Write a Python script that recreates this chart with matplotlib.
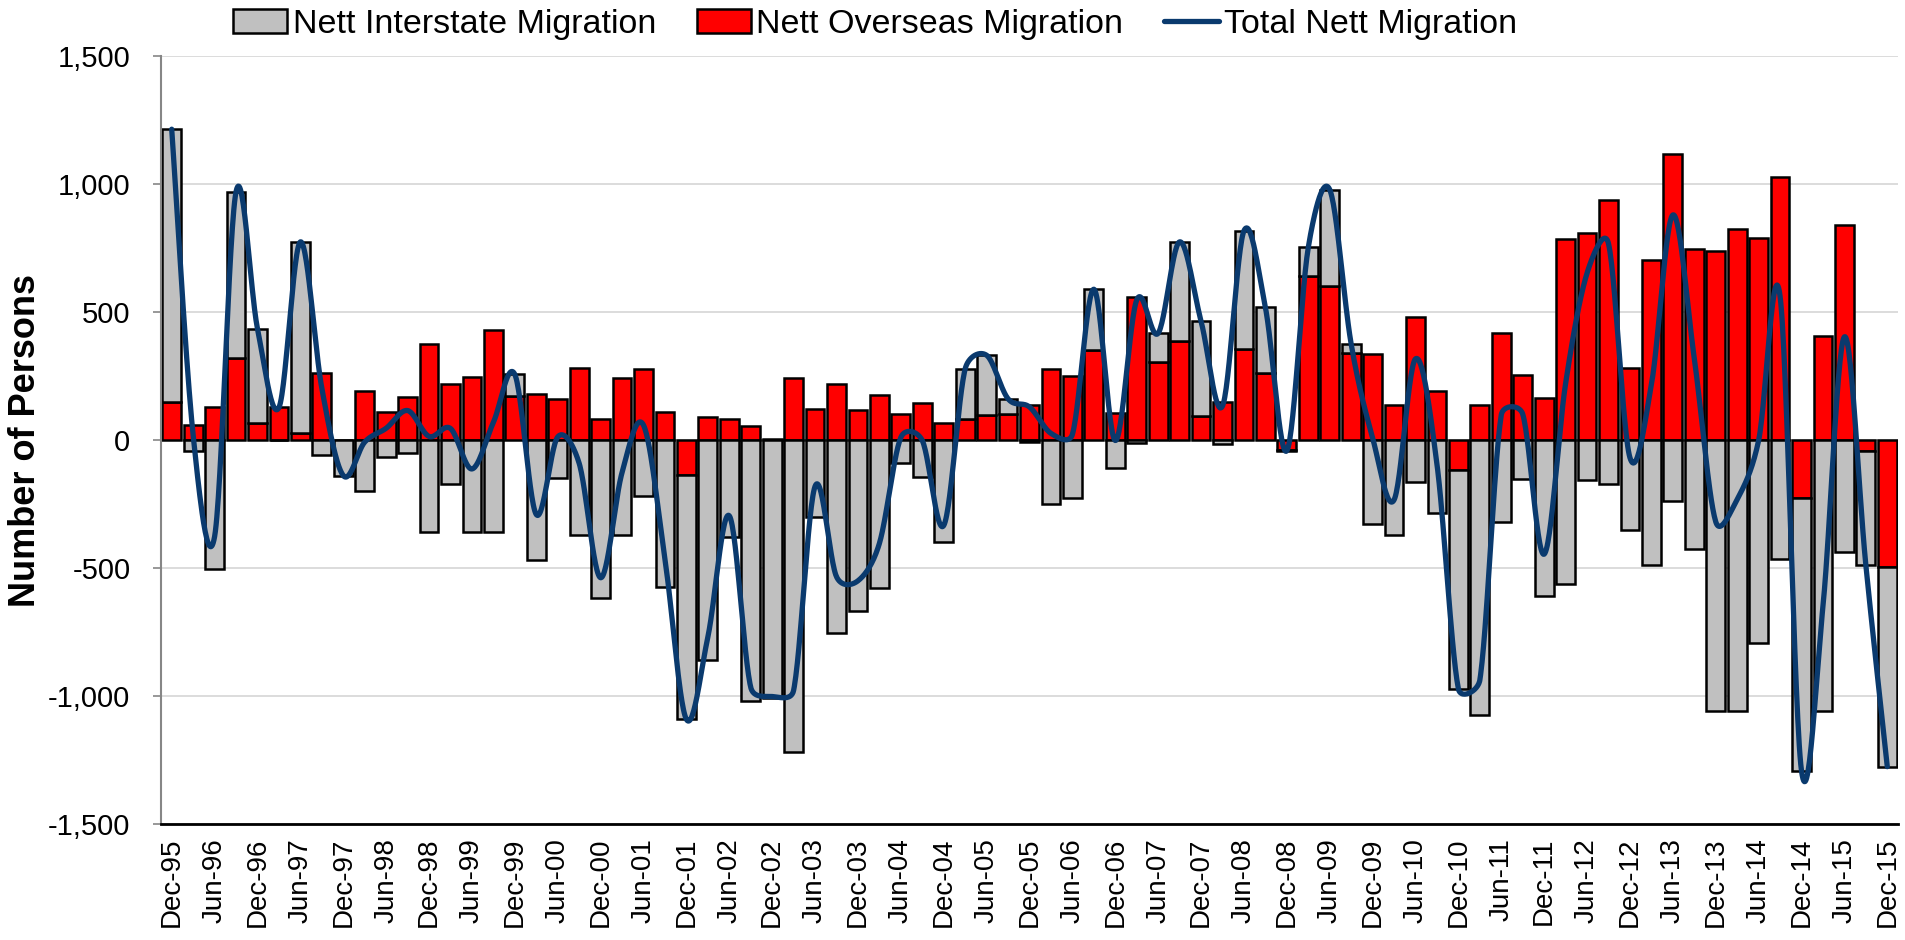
import numpy as np
import matplotlib.pyplot as plt
from matplotlib.ticker import FuncFormatter

plt.rcParams['font.family'] = ['Liberation Sans', 'DejaVu Sans']

# quarterly values, Dec-95 .. Dec-15
overseas = [147, 60, 127, 321, 67, 127, 28, 262, 0, 192,
            111, 167, 375, 218, 248, 430, 173, 179, 161, 280,
            81, 244, 278, 109, -135, 91, 83, 54, 5, 242,
            121, 220, 119, 175, 101, 143, 65, 83, 97, 103,
            135, 276, 250, 353, 107, 557, 306, 385, 95, 149,
            357, 262, -38, 641, 603, 339, 337, 137, 482, 192,
            -117, 137, 419, 254, 163, 784, 807, 938, 282, 704,
            1119, 746, 738, 825, 790, 1028, -226, 407, 839, -42,
            -498]
interstate = [1067, -42, -504, 649, 367, 0, 746, -60, -139, -200,
              -65, -52, -361, -173, -361, -361, 83, -470, -149, -371,
              -619, -371, -220, -573, -956, -861, -379, -1020, -1007, -1220,
              -302, -754, -669, -579, -91, -145, -399, 195, 234, 58,
              -6, -250, -228, 236, -109, -10, 111, 389, 369, -16,
              460, 256, -4, 111, 375, 36, -329, -371, -165, -286,
              -855, -1075, -321, -153, -609, -563, -155, -171, -351, -488,
              -240, -427, -1057, -1057, -792, -466, -1066, -1057, -436, -446,
              -778]
tick_labels = ["Dec-95", "Jun-96", "Dec-96", "Jun-97", "Dec-97", "Jun-98", "Dec-98",
               "Jun-99", "Dec-99", "Jun-00", "Dec-00", "Jun-01", "Dec-01", "Jun-02",
               "Dec-02", "Jun-03", "Dec-03", "Jun-04", "Dec-04", "Jun-05", "Dec-05",
               "Jun-06", "Dec-06", "Jun-07", "Dec-07", "Jun-08", "Dec-08", "Jun-09",
               "Dec-09", "Jun-10", "Dec-10", "Jun-11", "Dec-11", "Jun-12", "Dec-12",
               "Jun-13", "Dec-13", "Jun-14", "Dec-14", "Jun-15", "Dec-15"]


def smooth_curve(x, y, sx_px, sy_px, n=30):
    # excel-like smoothed line: bezier through each point, control arms
    # capped at half the chord (measured in screen pixels)
    P = np.column_stack([np.asarray(x, float) * sx_px, np.asarray(y, float) * sy_px])
    P = np.vstack([P[0], P, P[-1]])
    t = np.linspace(0, 1, n)[:, None]
    out = []
    for i in range(1, len(P) - 2):
        p0, p1, p2, p3 = P[i - 1], P[i], P[i + 1], P[i + 2]
        d12 = np.hypot(*(p2 - p1))
        d02 = np.hypot(*(p2 - p0))
        d13 = np.hypot(*(p3 - p1))
        f1 = min(1 / 6, d12 / (2 * d02)) if d02 > 0 else 0
        f2 = min(1 / 6, d12 / (2 * d13)) if d13 > 0 else 0
        c1 = p1 + (p2 - p0) * f1
        c2 = p2 - (p3 - p1) * f2
        pts = ((1 - t) ** 3) * p1 + 3 * ((1 - t) ** 2) * t * c1 + 3 * (1 - t) * t ** 2 * c2 + t ** 3 * p2
        out.append(pts)
    out = np.vstack(out)
    return out[:, 0] / sx_px, out[:, 1] / sy_px


ov = np.array(overseas)
it = np.array(interstate)
total = ov + it
x = np.arange(len(ov))
it_bottom = np.where(np.sign(it) == np.sign(ov), ov, 0)

fig = plt.figure(figsize=(19.06, 9.40), dpi=100)
ax = fig.add_axes([161 / 1906, 1 - 824 / 940, (1898 - 161) / 1906, (824 - 56) / 940])

w = 0.88
b_ov = ax.bar(x, ov, w, color='#ff0000', edgecolor='black', linewidth=1.8, zorder=2)
b_it = ax.bar(x, it, w, bottom=it_bottom, color='#c0c0c0', edgecolor='black', linewidth=1.8, zorder=2)
sx, sy = smooth_curve(x, total, (1898 - 161) / len(x), (824 - 56) / 3000)
ln, = ax.plot(sx, sy, color='#0a3a6e', linewidth=3.8, zorder=3, solid_capstyle='round')

ax.set_xlim(-0.5, len(x) - 0.5)
ax.set_ylim(-1500, 1500)
ax.set_yticks(np.arange(-1500, 1501, 500))
ax.yaxis.set_major_formatter(FuncFormatter(lambda v, p: f"{int(v):,}"))
ax.set_xticks(x[::2])
ax.set_xticklabels(tick_labels, rotation=90)
ax.grid(axis='y', color='#d9d9d9', linewidth=1.3, zorder=0)
ax.set_axisbelow(True)

for s in ['top', 'right']:
    ax.spines[s].set_visible(False)
ax.spines['left'].set_color('#868686')
ax.spines['left'].set_linewidth(1.5)
ax.spines['bottom'].set_color('black')
ax.spines['bottom'].set_linewidth(2)
ax.tick_params(axis='y', labelsize=21, length=6, width=1.2, color='#868686', pad=16)
ax.tick_params(axis='x', labelsize=20, length=0, pad=10)

ax.set_ylabel('Number of Persons', fontsize=26, fontweight='bold')
ax.yaxis.set_label_coords(-0.068, 0.5)

fig.legend([b_it, b_ov, ln], ['Nett Interstate Migration', 'Nett Overseas Migration', 'Total Nett Migration'],
           loc='center left', bbox_to_anchor=(233 / 1906, 1 - 24 / 940), ncol=3, frameon=False,
           fontsize=24.5, handlelength=1.6, handleheight=0.7, handletextpad=0.15,
           columnspacing=1.2, borderpad=0, borderaxespad=0)

fig.savefig('out.png', dpi=100)
